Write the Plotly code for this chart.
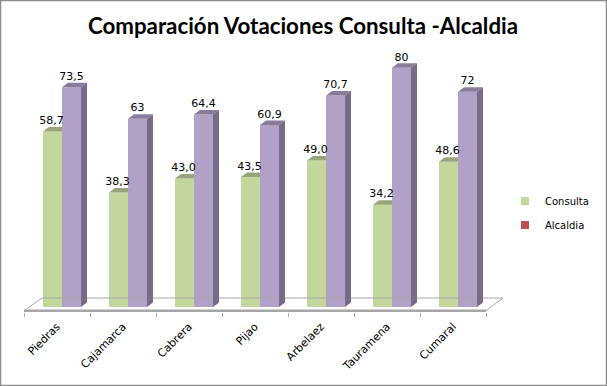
import plotly.graph_objects as go

categories = ["Piedras", "Cajamarca", "Cabrera", "Pijao", "Arbelaez", "Tauramena", "Cumaral"]
consulta = [58.7, 38.3, 43.0, 43.5, 49.0, 34.2, 48.6]
alcaldia = [73.5, 63, 64.4, 60.9, 70.7, 80, 72]
consulta_labels = ["58,7", "38,3", "43,0", "43,5", "49,0", "34,2", "48,6"]
alcaldia_labels = ["73,5", "63", "64,4", "60,9", "70,7", "80", "72"]

W, H = 607, 386
L, R, T, B = 24, 88, 40, 74
XMIN, XMAX = -0.5, 7.0
PX_PER_CAT = 66.0
PX_PER_UNIT = 2.99
ZERO_PX = 307.0
YMIN = (ZERO_PX - (H - B)) / PX_PER_UNIT
YMAX = (ZERO_PX - T) / PX_PER_UNIT

DX = 6 / PX_PER_CAT
DY = 4.5 / PX_PER_UNIT
BAR_W = 19 / PX_PER_CAT
OFF_G = -14 / PX_PER_CAT
OFF_P = 5 / PX_PER_CAT

GREEN, GREEN_TOP = "#C3D69B", "#98A57A"
PURPLE, PURPLE_TOP, PURPLE_SIDE = "#B2A1C7", "#887B9B", "#776B89"
GRAY = "#A6A6A6"
FONT = "DejaVu Sans"

idx = list(range(len(categories)))
fig = go.Figure()


def poly(xs, ys, color):
    fig.add_trace(go.Scatter(x=xs, y=ys, mode="lines", fill="toself", fillcolor=color,
                             line=dict(width=0, color=color), hoverinfo="skip", showlegend=False))


# floor of the 3D box
floor_front = (-1.24)
floor_back = 3.0
fx0, fx1 = -0.5, 6.5
back0, back1 = fx0 + 18 / PX_PER_CAT, fx1 + 17 / PX_PER_CAT
fig.add_trace(go.Scatter(x=[fx0, back0, back1, fx1], y=[floor_front, floor_back, floor_back, floor_front],
                         mode="lines", line=dict(color=GRAY, width=1), hoverinfo="skip", showlegend=False))
fig.add_trace(go.Scatter(x=[fx0, fx1], y=[floor_front, floor_front], mode="lines",
                         line=dict(color=GRAY, width=2.5), hoverinfo="skip", showlegend=False))

# front faces
fig.add_trace(go.Bar(x=idx, y=consulta, width=BAR_W, offset=OFF_G, marker=dict(color=GREEN, line=dict(width=0)),
                     name="Consulta", showlegend=False))
fig.add_trace(go.Bar(x=idx, y=alcaldia, width=BAR_W, offset=OFF_P, marker=dict(color=PURPLE, line=dict(width=0)),
                     name="Alcaldia", showlegend=False))

# depth faces derived from the values
for i, (g, p) in enumerate(zip(consulta, alcaldia)):
    gl = i + OFF_G
    gr = gl + BAR_W
    poly([gl, gl + DX, gr, gr], [g, g + DY, g + DY, g], GREEN_TOP)
    pl = i + OFF_P
    pr = pl + BAR_W
    poly([pl, pl + DX, pr + DX, pr], [p, p + DY, p + DY, p], PURPLE_TOP)
    poly([pr, pr + DX, pr + DX, pr], [0, DY, p + DY, p], PURPLE_SIDE)

# data labels
fig.add_trace(go.Scatter(x=[i + OFF_G + BAR_W / 2 - 1 / PX_PER_CAT for i in idx], y=[v + DY for v in consulta],
                         mode="text", text=consulta_labels, textposition="top center",
                         textfont=dict(family=FONT, size=11, color="#000000"), showlegend=False, hoverinfo="skip"))
fig.add_trace(go.Scatter(x=[i + OFF_P + BAR_W / 2 for i in idx], y=[v + DY for v in alcaldia],
                         mode="text", text=alcaldia_labels, textposition="top center",
                         textfont=dict(family=FONT, size=11, color="#000000"), showlegend=False, hoverinfo="skip"))

# legend entries
fig.add_trace(go.Scatter(x=[None], y=[None], mode="markers", name="Consulta",
                         legendgroup="a", marker=dict(symbol="square", size=8, color=GREEN)))
fig.add_trace(go.Scatter(x=[None], y=[None], mode="markers", name="Alcaldia",
                         legendgroup="b", marker=dict(symbol="square", size=8, color="#C0504D")))

fig.update_layout(
    width=W, height=H,
    margin=dict(l=L, r=R, t=T, b=B, pad=0),
    paper_bgcolor="white", plot_bgcolor="white",
    barmode="overlay",
    title=dict(text="<b>Comparación Votaciones Consulta -Alcaldia</b>", x=303 / W, xanchor="center",
               y=1 - 26 / H, yanchor="middle", font=dict(family="Lato", size=22.3, color="#000000")),
    legend=dict(x=(505 - L) / (W - L - R), xanchor="left", y=(H - B - 213) / (H - T - B), yanchor="middle",
                font=dict(family=FONT, size=10, color="#000000"), bgcolor="rgba(0,0,0,0)",
                traceorder="grouped", tracegroupgap=5, itemclick=False, itemdoubleclick=False),
    xaxis=dict(range=[XMIN, XMAX], tickmode="array", tickvals=idx, ticktext=categories, tickangle=-45,
               ticks="", showgrid=False, zeroline=False, showline=False, ticklabelstandoff=5,
               tickfont=dict(family=FONT, size=11, color="#000000"),
               minor=dict(tickmode="array", tickvals=[i - 0.5 for i in range(len(categories) + 1)], ticks="outside",
                          ticklen=4, tickwidth=1, tickcolor=GRAY, showgrid=False)),
    yaxis=dict(range=[YMIN, YMAX], visible=False),
    shapes=[dict(type="rect", xref="paper", yref="paper",
                 x0=(0.5 - L) / (W - L - R), x1=(W - 0.5 - L) / (W - L - R),
                 y0=(H - B - H + 0.5) / (H - T - B), y1=(H - B - 0.5) / (H - T - B),
                 line=dict(color="#8C8C8C", width=1.5), layer="above")],
)

fig.write_html("out.html", config={"displayModeBar": False},
               post_script="document.body.style.margin='0';document.body.style.overflow='hidden';")
